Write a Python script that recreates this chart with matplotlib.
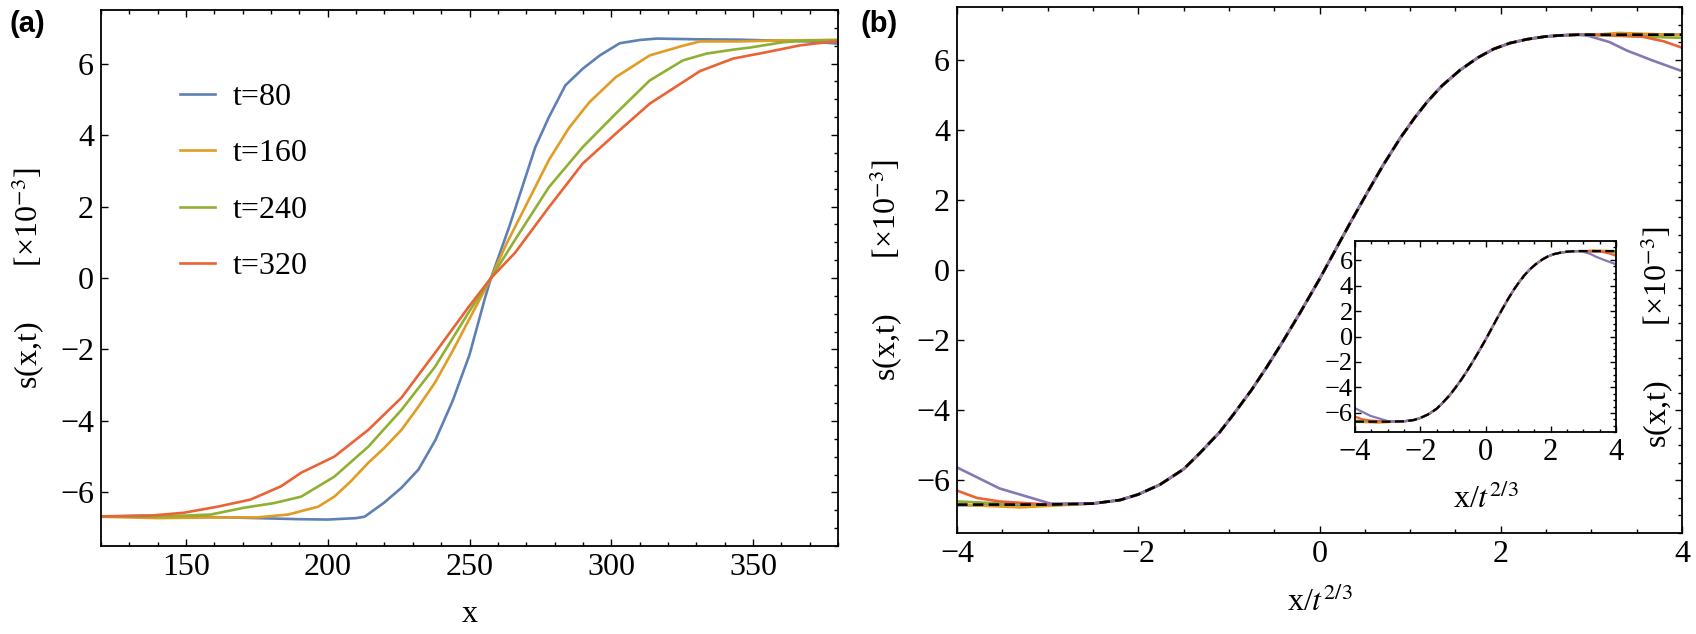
import matplotlib
matplotlib.use("Agg")
import matplotlib.pyplot as plt
from matplotlib.ticker import MultipleLocator

plt.rcParams['font.family'] = ['Liberation Serif', 'DejaVu Serif']
plt.rcParams['mathtext.fontset'] = 'stix'

# ---- panel (a): profiles s(x,t) at several times ----
labels = ['t=80', 't=160', 't=240', 't=320']
colors = ['#5E81B5', '#E09C24', '#8FB032', '#EB6235']

x_t80 = [120, 135, 150, 165, 180, 190, 200, 210, 213, 220, 226, 232, 238, 244, 250,
         255.5, 257.6, 264, 268.6, 273.2, 278, 283.8, 290, 296, 303, 310, 316, 330,
         345, 360, 370, 380]
y_t80 = [-6.68, -6.65, -6.68, -6.70, -6.73, -6.75, -6.76, -6.72, -6.68, -6.28, -5.87,
         -5.36, -4.53, -3.45, -2.15, -0.55, 0.0, 1.43, 2.54, 3.66, 4.5, 5.39, 5.86, 6.23,
         6.57, 6.66, 6.70, 6.68, 6.67, 6.64, 6.62, 6.56]

x_t160 = [120, 140, 160, 175, 186, 196.6, 202.3, 208, 214.3, 220, 226, 232, 237.8, 244,
          249.8, 257.6, 263, 269.6, 278, 285, 292.3, 301.6, 313.6, 325.3, 331.3, 345,
          360, 380]
y_t160 = [-6.68, -6.72, -6.70, -6.70, -6.62, -6.40, -6.12, -5.70, -5.17, -4.75, -4.25,
          -3.60, -2.93, -2.05, -1.17, 0.0, 0.95, 1.98, 3.3, 4.19, 4.92, 5.62, 6.23, 6.5,
          6.62, 6.62, 6.65, 6.66]

x_t240 = [120, 140, 158.7, 170.4, 181, 190.6, 202.3, 214.3, 226, 237.8, 249.8, 257.6,
          266, 278, 289.9, 301.6, 313.6, 325.3, 333.6, 343, 349, 360.8, 370, 380]
y_t240 = [-6.68, -6.68, -6.62, -6.43, -6.30, -6.12, -5.56, -4.72, -3.69, -2.49, -0.95,
          0.0, 1.06, 2.54, 3.66, 4.6, 5.53, 6.09, 6.28, 6.39, 6.45, 6.6, 6.65, 6.66]

x_t320 = [120, 137.4, 149.2, 161.1, 172.8, 183.5, 190.6, 202.3, 214.3, 226, 237.8,
          249.8, 257.6, 266, 278, 289.9, 301.6, 313.6, 325.3, 331.3, 343, 354.8, 366.6,
          376, 380]
y_t320 = [-6.67, -6.65, -6.57, -6.40, -6.20, -5.83, -5.45, -5.00, -4.25, -3.35, -2.10,
          -0.80, 0.0, 0.7, 1.98, 3.2, 4.04, 4.88, 5.48, 5.79, 6.14, 6.32, 6.51, 6.60, 6.62]

# ---- panel (b): collapse vs x/t^(2/3) ----
core_x = [-2.5, -2.2, -2.0, -1.76, -1.5, -1.32, -1.1, -0.95, -0.75, -0.58, -0.4, -0.21,
          0.0, 0.15, 0.34, 0.53, 0.7, 0.89, 1.05, 1.19, 1.35, 1.55, 1.75, 1.92, 2.1,
          2.29, 2.5, 2.66, 2.85]
core_y = [-6.66, -6.56, -6.40, -6.12, -5.68, -5.22, -4.62, -4.12, -3.42, -2.76, -2.02,
          -1.20, -0.26, 0.45, 1.35, 2.22, 2.98, 3.76, 4.34, 4.80, 5.25, 5.70, 6.06, 6.30,
          6.47, 6.58, 6.66, 6.69, 6.71]

# tails where each time deviates from the master curve
tail_colors = ['#5E81B5', '#E09C24', '#8FB032', '#EB6235', '#8778B3']
left_x = [[-4, -3.0], [-4, -3.3, -2.8], [-4, -3.5, -3.0],
          [-4, -3.78, -3.53, -3.0], [-4, -3.53, -3.23, -2.97]]
left_y = [[-6.71, -6.71], [-6.69, -6.77, -6.70], [-6.60, -6.66, -6.69],
          [-6.29, -6.50, -6.60, -6.69], [-5.63, -6.23, -6.46, -6.66]]
right_x = [[3.0, 4], [3.0, 3.3, 4], [3.0, 3.5, 4],
           [3.0, 3.55, 3.8, 4], [2.95, 3.2, 3.39, 3.68, 3.98]]
right_y = [[6.71, 6.71], [6.70, 6.76, 6.70], [6.70, 6.66, 6.62],
           [6.71, 6.66, 6.52, 6.34], [6.69, 6.50, 6.26, 5.97, 5.69]]

theory_x = [-4, -3.0] + core_x + [3.0, 4]
theory_y = [-6.69, -6.69] + core_y + [6.71, 6.71]

W, H = 1696, 634
fig = plt.figure(figsize=(W / 100, H / 100), dpi=100)

ax1 = fig.add_axes([101 / W, 1 - 546 / H, 737 / W, 536 / H])
ax2 = fig.add_axes([957 / W, 1 - 533 / H, 725 / W, 526 / H])
axi = fig.add_axes([1355 / W, 1 - 432 / H, 261 / W, 191 / H])

series = [(x_t80, y_t80), (x_t160, y_t160), (x_t240, y_t240), (x_t320, y_t320)]
for (xs, ys), c, lab in zip(series, colors, labels):
    ax1.plot(xs, ys, color=c, lw=1.9, label=lab)

for ax in (ax2, axi):
    for i, c in enumerate(tail_colors):
        xs = left_x[i] + core_x + right_x[i]
        ys = left_y[i] + core_y + right_y[i]
        ax.plot(xs, ys, color=c, lw=1.9 if ax is ax2 else 1.6)
    ax.plot(theory_x, theory_y, color='black', lw=1.9 if ax is ax2 else 1.6,
            ls=(0, (4, 2)))


def frame(ax, size, major_len=5, minor_len=3):
    for s in ax.spines.values():
        s.set_linewidth(1.3)
    ax.tick_params(which='both', direction='in', top=True, right=True,
                   width=1.0, labelsize=size, pad=5)
    ax.tick_params(which='major', length=major_len)
    ax.tick_params(which='minor', length=minor_len, left=False)


ax1.set_xlim(120, 380)
ax1.set_ylim(-7.5, 7.5)
ax1.set_xticks([150, 200, 250, 300, 350])
ax1.xaxis.set_minor_locator(MultipleLocator(10))
ax1.set_yticks([-6, -4, -2, 0, 2, 4, 6])
ax1.yaxis.set_minor_locator(MultipleLocator(0.5))
frame(ax1, 23)

ax2.set_xlim(-4, 4)
ax2.set_ylim(-7.5, 7.5)
ax2.set_xticks([-4, -2, 0, 2, 4])
ax2.xaxis.set_minor_locator(MultipleLocator(0.5))
ax2.set_yticks([-6, -4, -2, 0, 2, 4, 6])
ax2.yaxis.set_minor_locator(MultipleLocator(0.5))
frame(ax2, 23)

axi.set_xlim(-4, 4)
axi.set_ylim(-7.5, 7.5)
axi.set_xticks([-4, -2, 0, 2, 4])
axi.xaxis.set_minor_locator(MultipleLocator(0.5))
axi.set_yticks([-6, -4, -2, 0, 2, 4, 6])
axi.yaxis.set_minor_locator(MultipleLocator(0.5))
frame(axi, 22, 4, 2.5)
axi.tick_params(axis='y', pad=1.5, labelsize=19)
axi.tick_params(axis='x', pad=4)

ylab = 's(x,t)' + ' ' * 7 + '[×10$^{-3}$]'
fs = 23
ax1.set_xlabel('x', fontsize=fs)
ax1.xaxis.label.set_va('center')
ax1.xaxis.set_label_coords(0.5, (546 - 615) / 536)
ax1.set_ylabel(ylab, fontsize=fs)
ax1.yaxis.label.set_va('center')
ax1.yaxis.set_label_coords((28 - 101) / 737, 0.5)

ax2.set_xlabel('x/$t^{2/3}$', fontsize=fs)
ax2.xaxis.label.set_va('center')
ax2.xaxis.set_label_coords(0.5, (533 - 603) / 526)
ax2.set_ylabel(ylab, fontsize=fs)
ax2.yaxis.label.set_va('center')
ax2.yaxis.set_label_coords((886 - 957) / 725, 0.5)

axi.set_xlabel('x/$t^{2/3}$', fontsize=fs)
axi.xaxis.label.set_va('center')
axi.xaxis.set_label_coords(0.5, (432 - 500) / 191)
axi.yaxis.set_label_position('right')
axi.set_ylabel(ylab, fontsize=fs)
axi.yaxis.label.set_va('center')
axi.yaxis.set_label_coords((1657 - 1355) / 261, 0.5)

ax1.legend(loc='upper left', bbox_to_anchor=(0.107, 0.865), frameon=False,
           fontsize=fs, handlelength=1.1, handletextpad=0.55, labelspacing=0.85,
           borderpad=0, borderaxespad=0)

fig.text(27 / W, 1 - 24 / H, '(a)', fontsize=21, fontweight='bold',
         family='Liberation Sans', ha='center', va='center')
fig.text(879 / W, 1 - 24 / H, '(b)', fontsize=21, fontweight='bold',
         family='Liberation Sans', ha='center', va='center')

fig.savefig('out.png', dpi=100)
